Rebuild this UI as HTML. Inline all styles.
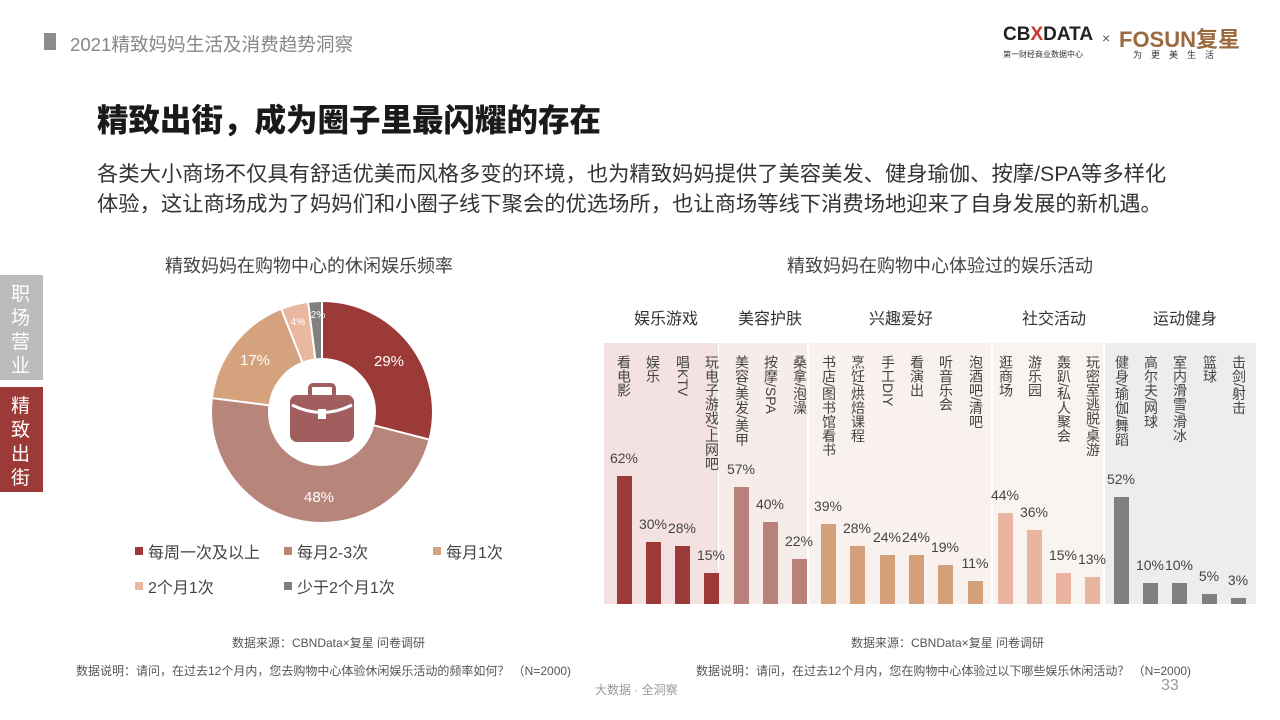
<!DOCTYPE html>
<html><head><meta charset="utf-8"><style>
*{margin:0;padding:0}
body{width:1280px;height:720px;position:relative;background:#fff;font-family:"Liberation Sans","Noto Sans CJK SC",sans-serif;overflow:hidden;color:#333}
.a{position:absolute;white-space:nowrap}
.v{writing-mode:vertical-rl;position:absolute;font-size:14px;color:#444;line-height:16px;top:355px}
.bar{position:absolute;width:15px;bottom:116px}
.pct{position:absolute;font-size:14px;color:#444;width:40px;text-align:center}
</style></head><body>
<div class="a" style="left:44px;top:33px;width:12px;height:17px;background:#8e8a8e"></div>
<div class="a" style="left:70px;top:30px;font-size:18.6px;color:#8a8488">2021精致妈妈生活及消费趋势洞察</div>
<div class="a" style="left:1003px;top:24px;font-size:19px;font-weight:bold;color:#222;letter-spacing:0px">CB<span style="color:#c0392b">X</span>DATA</div>
<div class="a" style="left:1102px;top:30px;font-size:14px;color:#555">×</div>
<div class="a" style="left:1119px;top:22px;font-size:22px;font-weight:bold;color:#9a6a3e">FOSUN复星</div>
<div class="a" style="left:1003px;top:49px;font-size:8px;color:#333">第一财经商业数据中心</div>
<div class="a" style="left:1133px;top:48px;font-size:9px;color:#333;letter-spacing:9px">为更美生活</div>
<div class="a" style="left:97px;top:95px;font-size:31.5px;font-weight:900;color:#1a1a1a">精致出街，成为圈子里最闪耀的存在</div>
<div class="a" style="left:97px;top:159px;font-size:21.3px;color:#333;line-height:30px">各类大小商场不仅具有舒适优美而风格多变的环境，也为精致妈妈提供了美容美发、健身瑜伽、按摩/SPA等多样化<br>体验，这让商场成为了妈妈们和小圈子线下聚会的优选场所，也让商场等线下消费场地迎来了自身发展的新机遇。</div>
<div class="a" style="left:0;top:275px;width:43px;height:105px;background:#bdbbbb"></div>
<div class="a" style="left:0;top:387px;width:43px;height:105px;background:#9b3a37"></div>
<div class="a" style="left:11px;top:283px;font-size:19px;color:#fff;line-height:24px;white-space:normal;width:20px">职场营业</div>
<div class="a" style="left:11px;top:395px;font-size:19px;color:#fff;line-height:24px;white-space:normal;width:20px">精致出街</div>
<div class="a" style="left:165px;top:252px;font-size:18px;color:#444">精致妈妈在购物中心的休闲娱乐频率</div>
<svg class="a" style="left:0;top:0" width="640" height="720">
<g transform="translate(322,412) rotate(-90)" fill="none" stroke-width="56">
<circle r="82" stroke="#9b3a37" stroke-dasharray="149.4 1000" stroke-dashoffset="0"/>
<circle r="82" stroke="#b8857b" stroke-dasharray="247.3 1000" stroke-dashoffset="-149.4"/>
<circle r="82" stroke="#d4a27c" stroke-dasharray="87.6 1000" stroke-dashoffset="-396.7"/>
<circle r="82" stroke="#eab8a0" stroke-dasharray="20.6 1000" stroke-dashoffset="-484.3"/>
<circle r="82" stroke="#808080" stroke-dasharray="10.3 1000" stroke-dashoffset="-504.9"/>
</g>
<g transform="translate(322,412)" stroke="#fff" stroke-width="2">
<line x1="0" y1="-54" x2="0" y2="-111"/>
<line transform="rotate(104.4)" x1="0" y1="-54" x2="0" y2="-111"/>
<line transform="rotate(277.2)" x1="0" y1="-54" x2="0" y2="-111"/>
<line transform="rotate(338.4)" x1="0" y1="-54" x2="0" y2="-111"/>
<line transform="rotate(352.8)" x1="0" y1="-54" x2="0" y2="-111"/>
</g>
<rect x="290" y="395" width="64" height="47" rx="7" fill="#a05e5e"/>
<rect x="310" y="385" width="24" height="12" rx="3" fill="none" stroke="#a05e5e" stroke-width="4"/>
<path d="M292 405 Q322 420 352 405" stroke="#fff" stroke-width="3" fill="none"/>
<rect x="318" y="409" width="8" height="10" fill="#fff"/>
<g font-size="15" fill="#fff" text-anchor="middle" font-family="Liberation Sans,sans-serif">
<text x="389" y="366">29%</text><text x="319" y="502">48%</text><text x="255" y="365">17%</text>
<text x="298" y="325" font-size="10">4%</text><text x="318" y="318" font-size="10">2%</text></g>
<g font-size="16" fill="#444" font-family="Liberation Sans,Noto Sans CJK SC,sans-serif">
<rect x="135" y="547" width="8" height="8" fill="#9b3a37"/><text x="148" y="558">每周一次及以上</text>
<rect x="284" y="547" width="8" height="8" fill="#b8857b"/><text x="297" y="558">每月2-3次</text>
<rect x="433" y="547" width="8" height="8" fill="#d4a27c"/><text x="446" y="558">每月1次</text>
<rect x="135" y="582" width="8" height="8" fill="#eab8a0"/><text x="148" y="593">2个月1次</text>
<rect x="284" y="582" width="8" height="8" fill="#808080"/><text x="297" y="593">少于2个月1次</text></g>
</svg>
<div class="a" style="left:232px;top:634px;font-size:12px;color:#555">数据来源：CBNData×复星 问卷调研</div>
<div class="a" style="left:76px;top:662px;font-size:12px;color:#555">数据说明：请问，在过去12个月内，您去购物中心体验休闲娱乐活动的频率如何？ （N=2000)</div>
<div class="a" style="left:787px;top:252px;font-size:18px;color:#444">精致妈妈在购物中心体验过的娱乐活动</div>
<div class="a" style="left:604px;top:343px;width:114px;height:261px;background:#f4e2e2"></div>
<div class="a" style="left:719px;top:343px;width:88px;height:261px;background:#f6ecea"></div>
<div class="a" style="left:809px;top:343px;width:182px;height:261px;background:#f9f1ed"></div>
<div class="a" style="left:993px;top:343px;width:110px;height:261px;background:#faf4f1"></div>
<div class="a" style="left:1105px;top:343px;width:151px;height:261px;background:#ededed"></div>
<div class="a" style="left:634px;top:305px;font-size:16px;color:#333">娱乐游戏</div>
<div class="a" style="left:738px;top:305px;font-size:16px;color:#333">美容护肤</div>
<div class="a" style="left:869px;top:305px;font-size:16px;color:#333">兴趣爱好</div>
<div class="a" style="left:1022px;top:305px;font-size:16px;color:#333">社交活动</div>
<div class="a" style="left:1153px;top:305px;font-size:16px;color:#333">运动健身</div>
<div class="v" style="left:616px">看电影</div><div class="v" style="left:645px">娱乐</div><div class="v" style="left:675px">唱KTV</div><div class="v" style="left:704px">玩电子游戏/上网吧</div>
<div class="v" style="left:734px">美容/美发/美甲</div><div class="v" style="left:763px">按摩/SPA</div><div class="v" style="left:792px">桑拿/泡澡</div>
<div class="v" style="left:821px">书店/图书馆看书</div><div class="v" style="left:850px">烹饪/烘焙课程</div><div class="v" style="left:880px">手工DIY</div><div class="v" style="left:909px">看演出</div><div class="v" style="left:938px">听音乐会</div><div class="v" style="left:968px">泡酒吧/清吧</div>
<div class="v" style="left:998px">逛商场</div><div class="v" style="left:1027px">游乐园</div><div class="v" style="left:1056px">轰趴/私人聚会</div><div class="v" style="left:1085px">玩密室逃脱/桌游</div>
<div class="v" style="left:1114px">健身/瑜伽/舞蹈</div><div class="v" style="left:1143px">高尔夫/网球</div><div class="v" style="left:1172px">室内滑雪/滑冰</div><div class="v" style="left:1202px">篮球</div><div class="v" style="left:1231px">击剑/射击</div>
<div id="bars"></div>
<script>
var d=[[624,62,'#9b3a37'],[653,30,'#9b3a37'],[682,28,'#9b3a37'],[711,15,'#9b3a37'],[741,57,'#b8827a'],[770,40,'#b8827a'],[799,22,'#b8827a'],[828,39,'#d4a07a'],[857,28,'#d4a07a'],[887,24,'#d4a07a'],[916,24,'#d4a07a'],[945,19,'#d4a07a'],[975,11,'#d4a07a'],[1005,44,'#eab5a0'],[1034,36,'#eab5a0'],[1063,15,'#eab5a0'],[1092,13,'#eab5a0'],[1121,52,'#808080'],[1150,10,'#808080'],[1179,10,'#808080'],[1209,5,'#808080'],[1238,3,'#808080']];
var h='';d.forEach(function(b){var ht=b[1]*2.06;h+='<div class="bar" style="left:'+(b[0]-7)+'px;height:'+ht+'px;background:'+b[2]+'"></div><div class="pct" style="left:'+(b[0]-20)+'px;top:'+(604-ht-26)+'px">'+b[1]+'%</div>';});
document.getElementById('bars').innerHTML=h;
</script>
<div class="a" style="left:851px;top:634px;font-size:12px;color:#555">数据来源：CBNData×复星 问卷调研</div>
<div class="a" style="left:696px;top:662px;font-size:12px;color:#555">数据说明：请问，在过去12个月内，您在购物中心体验过以下哪些娱乐休闲活动？ （N=2000)</div>
<div class="a" style="left:595px;top:681px;font-size:12px;color:#999">大数据 · 全洞察</div>
<div class="a" style="left:1161px;top:677px;font-size:16px;color:#999">33</div>
</body></html>
